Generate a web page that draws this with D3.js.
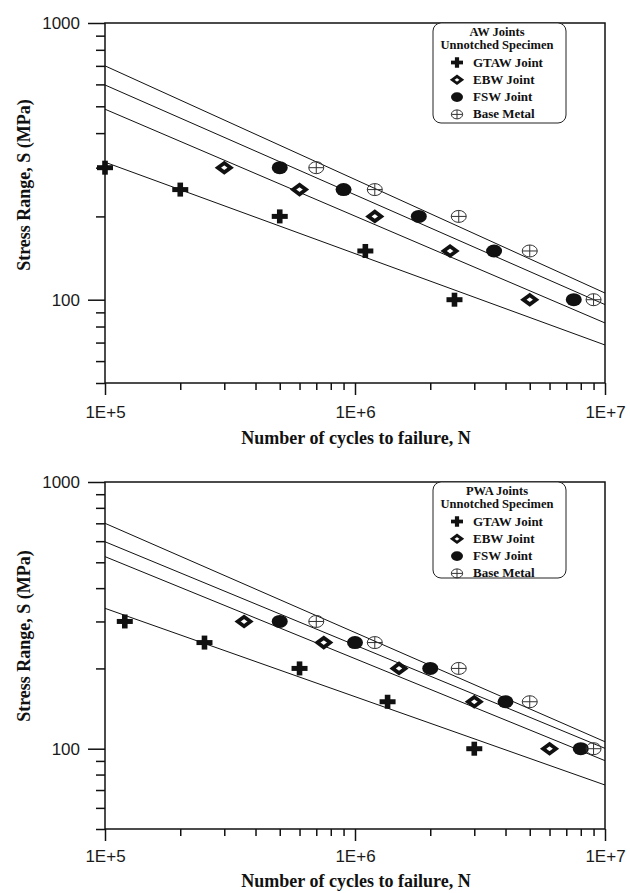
<!DOCTYPE html>
<html>
<head>
<meta charset="utf-8">
<script src="https://cdn.jsdelivr.net/npm/d3@7"></script>
<style>
  body { margin: 0; background: #fff; }
  svg { display: block; }
</style>
</head>
<body>
<div id='chart'></div>
<script>

// Data
const seriesNames = ['GTAW Joint', 'EBW Joint', 'FSW Joint', 'Base Metal'];
const stressLevels = [300, 250, 200, 150, 100];

// AW joints: cycles to failure at each stress level
const awGtawN = [1e5, 2e5, 5e5, 1.1e6, 2.5e6];
const awEbwN = [3e5, 6e5, 1.2e6, 2.4e6, 5e6];
const awFswN = [5e5, 9e5, 1.8e6, 3.6e6, 7.5e6];
const awBaseN = [7e5, 1.2e6, 2.6e6, 5e6, 9e6];

// PWA joints
const pwaGtawN = [1.2e5, 2.5e5, 6e5, 1.35e6, 3e6];
const pwaEbwN = [3.6e5, 7.5e5, 1.5e6, 3e6, 6e6];
const pwaFswN = [5e5, 1e6, 2e6, 4e6, 8e6];
const pwaBaseN = [7e5, 1.2e6, 2.6e6, 5e6, 9e6];

// Fitted S-N lines, stress at N = 1E+5 and N = 1E+7
const lineN = [1e5, 1e7];
const awLineGtaw = [314, 68.6];
const awLineEbw = [488, 82.4];
const awLineFsw = [597, 96];
const awLineBase = [700, 105.7];
const pwaLineGtaw = [336, 73.1];
const pwaLineEbw = [525, 90.2];
const pwaLineFsw = [597, 100.3];
const pwaLineBase = [700, 106.2];

// Axis ticks
const xMajor = [1e5, 1e6, 1e7];
const xMajorLabels = ['1E+5', '1E+6', '1E+7'];
const xMinor = [2e5, 3e5, 4e5, 5e5, 6e5, 7e5, 8e5, 9e5, 2e6, 3e6, 4e6, 5e6, 6e6, 7e6, 8e6, 9e6];
const yMajor = [100, 1000];
const yMinor = [50, 60, 70, 80, 90, 200, 300, 400, 500, 600, 700, 800, 900];

// Page
const W = 630, H = 893;
const serif = "'Liberation Serif', 'Times New Roman', serif";
const sans = "'Liberation Sans', Arial, sans-serif";

const svg = d3.select('div#chart').append('svg')
  .attr('width', W)
  .attr('height', H);

const panels = [
  { title: 'AW Joints', top: 23, bottom: 383, yTitleY: 185, xLabelY: 417.5, xTitleY: 444,
    legendH: 100, series: [awGtawN, awEbwN, awFswN, awBaseN],
    lines: [awLineGtaw, awLineEbw, awLineFsw, awLineBase] },
  { title: 'PWA Joints', top: 482, bottom: 829, yTitleY: 636, xLabelY: 862, xTitleY: 887,
    legendH: 96, series: [pwaGtawN, pwaEbwN, pwaFswN, pwaBaseN],
    lines: [pwaLineGtaw, pwaLineEbw, pwaLineFsw, pwaLineBase] }
];

const left = 105, right = 605;

// Marker shapes
function drawMarker(g, type, cx, cy, s) {
  const m = g.append('g').attr('transform', `translate(${cx},${cy})`);
  if (type === 0) {
    m.append('rect').attr('x', -8 * s).attr('y', -2.5 * s).attr('width', 16 * s).attr('height', 5 * s).attr('fill', '#111');
    m.append('rect').attr('x', -2.8 * s).attr('y', -7 * s).attr('width', 5.6 * s).attr('height', 14 * s).attr('fill', '#111');
  } else if (type === 1) {
    m.append('path')
      .attr('d', `M${-6.4 * s},0L0,${-4.7 * s}L${6.4 * s},0L0,${4.7 * s}Z`)
      .attr('fill', '#fff').attr('stroke', '#111').attr('stroke-width', 3.8 * s);
  } else if (type === 2) {
    m.append('ellipse').attr('rx', 8 * s).attr('ry', 6.5 * s).attr('fill', '#111');
  } else {
    m.append('ellipse').attr('rx', 7.5 * s).attr('ry', 6 * s).attr('fill', 'none').attr('stroke', '#333').attr('stroke-width', 1);
    m.append('line').attr('x1', -7.5 * s).attr('x2', 7.5 * s).attr('stroke', '#333').attr('stroke-width', 1);
    m.append('line').attr('y1', -6 * s).attr('y2', 6 * s).attr('stroke', '#333').attr('stroke-width', 1);
  }
}

panels.forEach(p => {
  const x = d3.scaleLog().domain([1e5, 1e7]).range([left, right]);
  const y = d3.scaleLog().domain([50, 1000]).range([p.bottom, p.top]);
  const g = svg.append('g');

  // Fitted lines
  p.lines.forEach(l => {
    g.append('path')
      .datum(lineN.map((n, i) => [n, l[i]]))
      .attr('d', d3.line().x(d => x(d[0])).y(d => y(d[1])))
      .attr('fill', 'none')
      .attr('stroke', '#111')
      .attr('stroke-width', 1);
  });

  // Frame
  g.append('rect')
    .attr('x', left).attr('y', p.top)
    .attr('width', right - left).attr('height', p.bottom - p.top)
    .attr('fill', 'none').attr('stroke', '#111').attr('stroke-width', 1.5);

  // Axes
  const axisStyle = sel => {
    sel.select('.domain').remove();
    sel.selectAll('line').attr('stroke', '#111').attr('stroke-width', 1.5);
    sel.selectAll('text').attr('font-family', sans).attr('font-size', 17).attr('fill', '#1a1a1a');
  };
  g.append('g').attr('transform', `translate(${left},0)`)
    .call(d3.axisLeft(y).tickValues(yMinor).tickSize(9).tickFormat(''))
    .call(axisStyle);
  g.append('g').attr('transform', `translate(${left},0)`)
    .call(d3.axisLeft(y).tickValues(yMajor).tickSize(17).tickPadding(8).tickFormat(d3.format('d')))
    .call(axisStyle);
  g.append('g').attr('transform', `translate(0,${p.bottom})`)
    .call(d3.axisBottom(x).tickValues(xMinor).tickSize(7).tickFormat(''))
    .call(axisStyle);
  g.append('g').attr('transform', `translate(0,${p.bottom})`)
    .call(d3.axisBottom(x).tickValues(xMajor).tickSize(12).tickPadding(p.xLabelY - p.bottom - 12 - 12)
      .tickFormat((d, i) => xMajorLabels[i]))
    .call(axisStyle);

  // Axis titles
  g.append('text')
    .attr('transform', `translate(30,${p.yTitleY}) rotate(-90)`)
    .attr('text-anchor', 'middle')
    .attr('font-family', serif).attr('font-weight', 'bold').attr('font-size', 18)
    .attr('fill', '#111')
    .text('Stress Range, S (MPa)');
  g.append('text')
    .attr('x', 356).attr('y', p.xTitleY)
    .attr('text-anchor', 'middle')
    .attr('font-family', serif).attr('font-weight', 'bold').attr('font-size', 18)
    .attr('fill', '#111')
    .text('Number of cycles to failure, N');

  // Data points
  p.series.forEach((ns, si) => {
    ns.forEach((n, i) => drawMarker(g, si, x(n), y(stressLevels[i]), 1));
  });

  // Legend
  const lg = g.append('g').attr('transform', `translate(433,${p.top})`);
  lg.append('rect')
    .attr('width', 133).attr('height', p.legendH)
    .attr('rx', 8).attr('ry', 8)
    .attr('fill', '#fff').attr('stroke', '#222').attr('stroke-width', 1);
  [p.title, 'Unnotched Specimen'].forEach((t, i) => {
    lg.append('text')
      .attr('x', 64).attr('y', 12.5 + i * 13.5)
      .attr('text-anchor', 'middle')
      .attr('font-family', serif).attr('font-weight', 'bold').attr('font-size', 12.5)
      .attr('fill', '#111')
      .text(t);
  });
  seriesNames.forEach((name, i) => {
    const yy = 43.5 + i * 17.3;
    drawMarker(lg, i, 24, yy - 4, 0.75);
    lg.append('text')
      .attr('x', 40).attr('y', yy)
      .attr('font-family', serif).attr('font-weight', 'bold').attr('font-size', 13)
      .attr('fill', '#111')
      .text(name);
  });
});

</script>
</body>
</html>
